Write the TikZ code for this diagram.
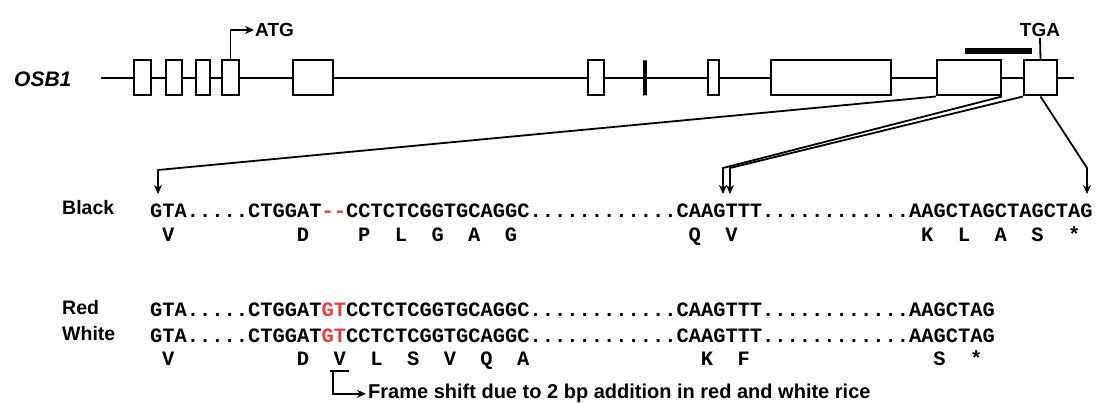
\documentclass[tikz,border=0pt]{standalone}
\usepackage{fontspec}
\setmainfont{Liberation Sans}
\newfontfamily\seqfont{Liberation Mono}
\usepackage{xcolor}
\usetikzlibrary{arrows.meta}
\definecolor{seqred}{RGB}{232,60,60}
\pgfdeclarelayer{edgelayer}
\pgfdeclarelayer{nodelayer}
\pgfsetlayers{edgelayer,nodelayer,main}
\tikzstyle{exon}=[rectangle, draw=black, fill=white, line width=2pt, minimum height=35pt, inner sep=0pt]
\tikzstyle{intron}=[-, draw=black, line width=2pt]
\tikzstyle{arrow}=[-{Stealth[length=9pt,width=8pt]}, draw=black, line width=1.8pt]
\tikzstyle{seq}=[font=\seqfont\bfseries\fontsize{20.4pt}{22pt}\selectfont, inner sep=0pt, anchor=base west]
\tikzstyle{residue}=[font=\seqfont\bfseries\fontsize{20.4pt}{22pt}\selectfont, inner sep=0pt, anchor=base]
\tikzstyle{rowlabel}=[font=\bfseries\fontsize{19.5pt}{22pt}\selectfont, inner sep=0pt, anchor=base west]
\tikzstyle{sitelabel}=[font=\bfseries\fontsize{19pt}{22pt}\selectfont, inner sep=1pt]

\begin{document}
\begin{tikzpicture}[x=1pt, y=-1pt]
            \useasboundingbox (0,0) rectangle (1098,403);
            \begin{pgfonlayer}{nodelayer}
                \node [font=\bfseries\itshape\fontsize{21pt}{24pt}\selectfont, inner sep=0pt, anchor=base west] (gene) at (14,87) {OSB1};
                \node [style=exon, minimum width=17pt] (e1) at (142.5,78) {};
                \node [style=exon, minimum width=16pt] (e2) at (174,78) {};
                \node [style=exon, minimum width=14pt] (e3) at (203,78) {};
                \node [style=exon, minimum width=17pt] (e4) at (230.5,78) {};
                \node [style=exon, minimum width=40pt] (e5) at (313,78) {};
                \node [style=exon, minimum width=16pt] (e6) at (596,78) {};
                \node [style=exon, minimum width=0pt, line width=4pt] (e7) at (645,78) {};
                \node [style=exon, minimum width=11pt] (e8) at (713.5,78) {};
                \node [style=exon, minimum width=120pt] (e9) at (831,78) {};
                \node [style=exon, minimum width=64pt] (e10) at (969,78) {};
                \node [style=exon, minimum width=33pt] (e11) at (1040.5,78) {};

                \node [style=sitelabel, anchor=west] (atg) at (254,30) {ATG};
                \node [style=sitelabel] (tga) at (1040,30) {TGA};

                % sequenced region
                \draw [line width=5.5pt] (965,51) -- (1032,51);

                \node [style=rowlabel] (black) at (62,215) {Black};
                \node [style=rowlabel] (red) at (62,315) {Red};
                \node [style=rowlabel] (white) at (62,341) {White};

                \node [style=seq] (blackseq) at (150,218) {GTA.....CTGGAT\textcolor{seqred}{-\kern0pt-}CCTCTCGGTGCAGGC............CAAGTTT............AAGCTAGCTAGCTAG};
                \node [style=seq] (redseq) at (150,317) {GTA.....CTGGAT\textcolor{seqred}{GT}CCTCTCGGTGCAGGC............CAAGTTT............AAGCTAG};
                \node [style=seq] (whiteseq) at (150,343) {GTA.....CTGGAT\textcolor{seqred}{GT}CCTCTCGGTGCAGGC............CAAGTTT............AAGCTAG};

                \foreach \i/\res in {1/V,12/D,17/P,20/L,23/G,26/A,29/G,44/Q,47/V,63/K,66/L,69/A,72/S,75/*}
                    \node [style=residue] (b\i) at ({150+(\i+0.5)*12.24},242) {\res};
                \foreach \i/\res in {1/V,12/D,15/V,18/L,21/S,24/V,27/Q,30/A,45/K,48/F,64/S,67/*}
                    \node [style=residue] (w\i) at ({150+(\i+0.5)*12.24},366) {\res};

                \node [font=\bfseries\fontsize{20pt}{22pt}\selectfont, inner sep=2pt, anchor=base west] (shift) at (366,399) {Frame shift due to 2 bp addition in red and white rice};
            \end{pgfonlayer}
            \begin{pgfonlayer}{edgelayer}
                \coordinate (start) at (101,78);
                \coordinate (end) at (1074,78);
                \draw [style=intron] (start) to (end);

                \draw [style=arrow] (e4.north) |- (atg.west);
                \draw [line width=1.8pt] (e11.north) to (tga.south);

                \coordinate (c1) at (158,170);
                \coordinate (t1) at (158,194);
                \coordinate (c2) at (723,168);
                \coordinate (t2) at (723,194);
                \coordinate (c3) at (730,168);
                \coordinate (t3) at (730,194);
                \coordinate (c4) at (1087,168);
                \coordinate (t4) at (1087,194);
                \draw [style=arrow] (e10.south west) -- (c1) -- (t1);
                \draw [style=arrow] (e10.south east) -- (c2) -- (t2);
                \draw [style=arrow] (e11.south west) -- (c3) -- (t3);
                \draw [style=arrow] (e11.south) -- (c4) -- (t4);

                \coordinate (bl) at (330,371);
                \coordinate (br) at (349,371);
                \coordinate (bv) at (333,371);
                \draw [line width=1.8pt] (bl) -- (br);
                \draw [style=arrow] (bv) |- (shift.west);
            \end{pgfonlayer}
        \end{tikzpicture}
\end{document}
